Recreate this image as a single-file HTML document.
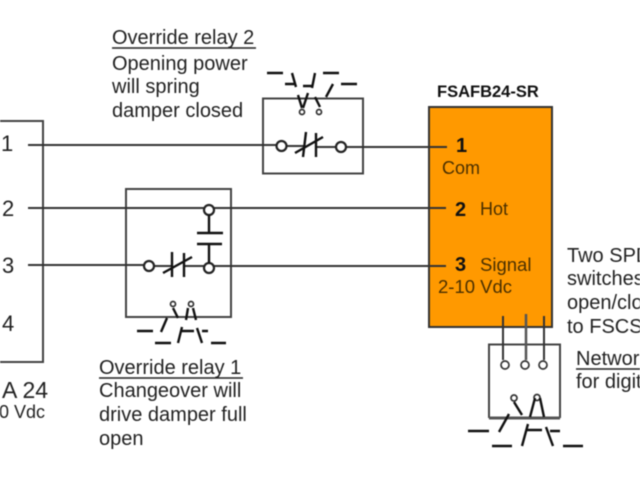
<!DOCTYPE html>
<html><head><meta charset="utf-8"><style>
html,body{margin:0;padding:0;background:#fff;width:640px;height:480px;overflow:hidden}
svg{display:block;filter:blur(.4px)}
text{font-family:"Liberation Sans",sans-serif;fill:#222;font-size:16px}
.b{font-weight:bold;fill:#111}
.o{fill:#4a3000}
</style></head><body>
<svg width="640" height="480" viewBox="0 0 640 480" xmlns="http://www.w3.org/2000/svg">
<rect x="429" y="107" width="123" height="220" fill="#ff9900" stroke="#333" stroke-width="2"/>
<path d="M-2 121H43V362H-2" fill="none" stroke="#444" stroke-width="2"/>
<rect x="263" y="98.500" width="100" height="75" fill="none" stroke="#444" stroke-width="2"/>
<rect x="126" y="189" width="105" height="128" fill="none" stroke="#444" stroke-width="2"/>
<path d="M489 418V344.500H560V418" fill="none" stroke="#444" stroke-width="2"/>
<path d="M489 418H560" fill="none" stroke="#555" stroke-width="3"/>
<g fill="none" stroke="#333" stroke-width="2">
<path d="M28 145H276M286 146H305M316 147H336M346 147H447"/>
<path d="M28 208H204M214 208H446"/>
<path d="M28 265H144M155 266H172M184 266H204M214 266H446"/>
<path d="M503 316V360M544 316V360"/>
<path d="M526 314V360" stroke="#555" stroke-width="2.500"/>
</g>
<g fill="#fff" stroke="#222" stroke-width="2.200">
<circle cx="281.500" cy="146" r="5"/><circle cx="341" cy="147" r="5"/>
<circle cx="209" cy="210" r="5"/><circle cx="209" cy="268" r="5"/><circle cx="149" cy="266" r="5"/>
</g>
<g fill="#fff" stroke="#333" stroke-width="1.700">
<circle cx="505" cy="365" r="4"/><circle cx="525" cy="365" r="4"/><circle cx="543" cy="365" r="4"/>
<circle cx="514" cy="398" r="3"/><circle cx="537" cy="397.500" r="3"/>
<circle cx="302" cy="112" r="2.500"/><circle cx="319" cy="112" r="2.500"/>
<circle cx="173" cy="304" r="2.500"/><circle cx="191" cy="304" r="2.500"/>
</g>
<g fill="none" stroke="#111" stroke-width="2.400">
<!-- relay 2 contact -->
<path d="M306 132L303 157M316 133V157M295 153L323 137"/>
<!-- relay 1 contact -->
<path d="M172 252V277M184 253V277M163 273L192 257"/>
<!-- relay 1 NO -->
<path d="M209 215V233M197 233H223M197 244H222M209 244V263"/>
<!-- relay 2 coil symbol -->
<path d="M267 73H283M292 73L296 87M285 84H295M303 86H312M315 73L312 88M323 73H339M341 84H357M333 84L326 97M298 95L302 108M308 93L303 108M315 97L320 107"/>
<!-- relay 1 coil symbol -->
<path d="M137 331H153M167 318L161 332M155 343H171M182 327L178 343M182 331H194M197 328L202 343M202 331H208M211 343H226M173 308L178 318M188 308L186 320M193 308L196 320"/>
<!-- network coil symbol -->
<path d="M468 431H489M509 414L499 432M492 446H512M528 424L522 446M527 430H542M546 427L553 446M550 431H560M563 446H583M514 402L522 415M535 398L530 417M540 398L544 417"/>
</g>
<text x="112" y="44" style="font-size:20px">Override relay 2</text>
<path d="M112 48H256" stroke="#222" stroke-width="1.500"/>
<text x="112" y="70" style="font-size:20px">Opening power</text>
<text x="112" y="93" style="font-size:20px">will spring</text>
<text x="112" y="117" style="font-size:20px">damper closed</text>
<text x="99" y="374" style="font-size:20px">Override relay 1</text>
<path d="M99 378H243" stroke="#222" stroke-width="1.500"/>
<text x="99" y="397" style="font-size:20px">Changeover will</text>
<text x="99" y="421" style="font-size:20px">drive damper full</text>
<text x="99" y="445" style="font-size:20px">open</text>
<text x="437" y="97" class="b" style="font-size:16.500px">FSAFB24-SR</text>
<text x="456" y="152" class="b" style="font-size:20px">1</text>
<text x="442" y="174" class="o" style="font-size:18px">Com</text>
<text x="455" y="216" class="b" style="font-size:20px">2</text>
<text x="480" y="215" class="o" style="font-size:18px">Hot</text>
<text x="455" y="271" class="b" style="font-size:20px">3</text>
<text x="480" y="271" class="o" style="font-size:18.500px">Signal</text>
<text x="438" y="293" class="o" style="font-size:18.500px">2-10 Vdc</text>
<text x="1" y="151" style="font-size:22px">1</text>
<text x="2" y="216" style="font-size:22px">2</text>
<text x="2" y="273" style="font-size:22px">3</text>
<text x="2" y="331" style="font-size:22px">4</text>
<text x="2" y="398" style="font-size:23px">A 24</text>
<text x="-1" y="418" style="font-size:18px">0 Vdc</text>
<text x="567" y="262" style="font-size:20px">Two SPDT</text>
<text x="567" y="285" style="font-size:20px">switches</text>
<text x="567" y="309" style="font-size:20px">open/close</text>
<text x="567" y="333" style="font-size:20px">to FSCS</text>
<text x="576" y="365" style="font-size:20px">Network</text>
<path d="M576 369H640" stroke="#222" stroke-width="1.500"/>
<text x="576" y="388" style="font-size:20px">for digital</text>
</svg>
</body></html>
